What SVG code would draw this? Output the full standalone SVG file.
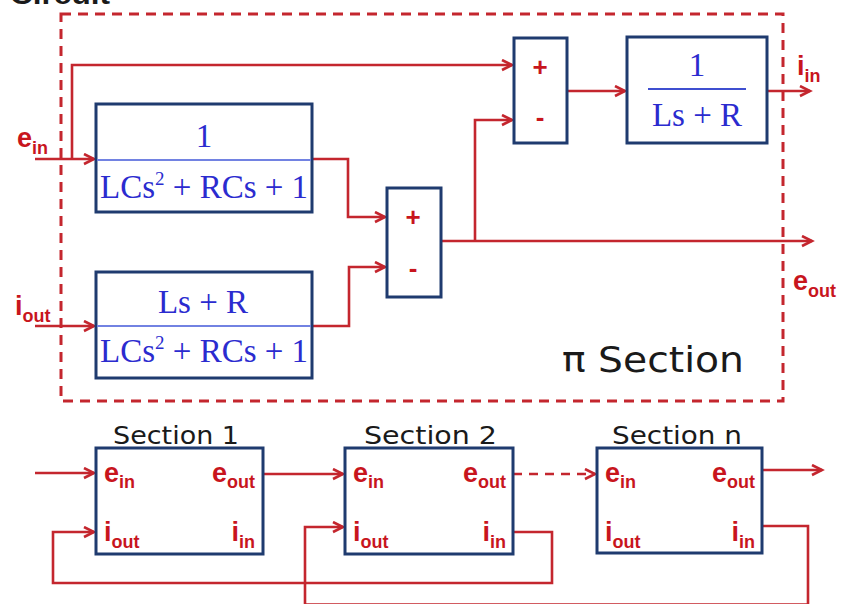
<svg xmlns="http://www.w3.org/2000/svg" width="849" height="604" viewBox="0 0 849 604">
<defs>
<marker id="arr" markerUnits="userSpaceOnUse" markerWidth="14" markerHeight="14" refX="11" refY="6" orient="auto">
<path d="M1,1 L11,6 L1,11" fill="none" stroke="#c4262e" stroke-width="2.6"/>
</marker>
<style>
.blk{fill:#fff;stroke:#1f3b6f;stroke-width:3}
.con{fill:none;stroke:#c4262e;stroke-width:2.6}
.frac{font-family:"Liberation Serif","Times New Roman",serif;font-size:33px;fill:#2b2bcf}
.div{stroke:#7282e2;stroke-width:2}
.lab{font-family:"Liberation Sans",Arial,sans-serif;font-weight:bold;font-size:27px;fill:#c8151d}
.sub{font-size:18px}
.pm{font-family:"Liberation Sans",Arial,sans-serif;font-weight:bold;font-size:26px;fill:#c8151d;text-anchor:middle}
.ttl{font-family:"DejaVu Sans",sans-serif;fill:#1a1a1a}
</style>
</defs>
<rect width="849" height="604" fill="#fff"/>
<text x="10" y="4" font-family="Liberation Sans,Arial,sans-serif" font-weight="bold" font-size="28" fill="#1a1a1a" textLength="100" lengthAdjust="spacingAndGlyphs">Circuit</text>

<rect id="pi-frame" x="61" y="14" width="722" height="387" fill="none" stroke="#c4262e" stroke-width="3" stroke-dasharray="10,7"/>

<g id="connectors">
<path class="con" d="M35,159 L94,159" marker-end="url(#arr)"/>
<path class="con" d="M72,159 L72,65 L512,65" marker-end="url(#arr)"/>
<path class="con" d="M312,159 L348,159 L348,217 L385,217" marker-end="url(#arr)"/>
<path class="con" d="M35,326 L94,326" marker-end="url(#arr)"/>
<path class="con" d="M312,326 L349,326 L349,267 L385,267" marker-end="url(#arr)"/>
<path class="con" d="M441,241 L812,241" marker-end="url(#arr)"/>
<path class="con" d="M475,241 L475,120 L512,120" marker-end="url(#arr)"/>
<path class="con" d="M567,91 L625,91" marker-end="url(#arr)"/>
<path class="con" d="M767,91 L810,91" marker-end="url(#arr)"/>
<path class="con" d="M35,473 L94,473" marker-end="url(#arr)"/>
<path class="con" d="M263,474 L343,474" marker-end="url(#arr)"/>
<path class="con" d="M513,474 L595,474" stroke-dasharray="9,7" marker-end="url(#arr)"/>
<path class="con" d="M762,470 L822,470" marker-end="url(#arr)"/>
<path class="con" d="M513,532 L552,532 L552,583 L53,583 L53,532 L94,532" marker-end="url(#arr)"/>
<path class="con" d="M762,526 L808,526 L808,604.5 L305,604.5 L305,527 L343,527" marker-end="url(#arr)"/>
</g>

<g id="block1">
<rect class="blk" x="96" y="104" width="216" height="108"/>
<line class="div" x1="97" y1="160" x2="311" y2="160"/>
<text class="frac" x="204" y="147" text-anchor="middle">1</text>
<text class="frac" x="100" y="198">LCs<tspan dy="-13" font-size="19">2</tspan><tspan dy="13"> + RCs + 1</tspan></text>
</g>

<g id="block2">
<rect class="blk" x="96" y="272" width="216" height="106"/>
<line class="div" x1="97" y1="326" x2="311" y2="326"/>
<text class="frac" x="203" y="313" text-anchor="middle">Ls + R</text>
<text class="frac" x="100" y="362">LCs<tspan dy="-13" font-size="19">2</tspan><tspan dy="13"> + RCs + 1</tspan></text>
</g>

<g id="sum1">
<rect class="blk" x="387" y="188" width="54" height="109"/>
<text class="pm" x="413" y="226">+</text>
<text class="pm" x="413" y="277">-</text>
</g>

<g id="sum2">
<rect class="blk" x="514" y="38" width="53" height="105"/>
<text class="pm" x="540" y="76">+</text>
<text class="pm" x="540" y="126">-</text>
</g>

<g id="block3">
<rect class="blk" x="627" y="37" width="140" height="106"/>
<line x1="648" y1="89" x2="746" y2="89" stroke="#3f4fd0" stroke-width="1.8"/>
<text class="frac" x="697" y="76" text-anchor="middle">1</text>
<text class="frac" x="697" y="126" text-anchor="middle">Ls + R</text>
</g>

<g id="pi-labels">
<text class="lab" x="17" y="147">e<tspan class="sub" dy="7">in</tspan></text>
<text class="lab" x="15" y="315">i<tspan class="sub" dy="7">out</tspan></text>
<text class="lab" x="797" y="75">i<tspan class="sub" dy="7">in</tspan></text>
<text class="lab" x="793" y="290">e<tspan class="sub" dy="7">out</tspan></text>
<text class="ttl" x="562" y="372" font-size="36" textLength="182" lengthAdjust="spacingAndGlyphs">π Section</text>
</g>

<g id="section1">
<text class="ttl" x="113" y="444" font-size="25" textLength="126" lengthAdjust="spacingAndGlyphs">Section 1</text>
<rect class="blk" x="96" y="448" width="167" height="106"/>
<text class="lab" x="104" y="482">e<tspan class="sub" dy="6">in</tspan></text>
<text class="lab" x="255" y="482" text-anchor="end">e<tspan class="sub" dy="6">out</tspan></text>
<text class="lab" x="104" y="541">i<tspan class="sub" dy="7">out</tspan></text>
<text class="lab" x="255" y="541" text-anchor="end">i<tspan class="sub" dy="7">in</tspan></text>
</g>

<g id="section2">
<text class="ttl" x="364" y="444" font-size="25" textLength="133" lengthAdjust="spacingAndGlyphs">Section 2</text>
<rect class="blk" x="345" y="448" width="168" height="106"/>
<text class="lab" x="353" y="482">e<tspan class="sub" dy="6">in</tspan></text>
<text class="lab" x="506" y="482" text-anchor="end">e<tspan class="sub" dy="6">out</tspan></text>
<text class="lab" x="353" y="541">i<tspan class="sub" dy="7">out</tspan></text>
<text class="lab" x="506" y="541" text-anchor="end">i<tspan class="sub" dy="7">in</tspan></text>
</g>

<g id="sectionn">
<text class="ttl" x="612" y="444" font-size="25" textLength="130" lengthAdjust="spacingAndGlyphs">Section n</text>
<rect class="blk" x="597" y="448" width="165" height="105"/>
<text class="lab" x="605" y="482">e<tspan class="sub" dy="6">in</tspan></text>
<text class="lab" x="755" y="482" text-anchor="end">e<tspan class="sub" dy="6">out</tspan></text>
<text class="lab" x="605" y="541">i<tspan class="sub" dy="7">out</tspan></text>
<text class="lab" x="755" y="541" text-anchor="end">i<tspan class="sub" dy="7">in</tspan></text>
</g>
</svg>
